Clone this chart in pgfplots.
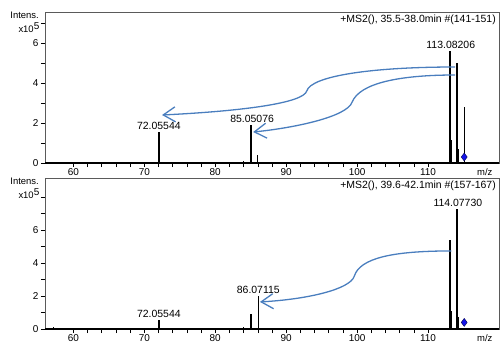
\documentclass[border=0pt]{standalone}
\usepackage{fontspec}
\setmainfont{Liberation Sans}
\usepackage{pgfplots}
\pgfplotsset{compat=1.18}
\usetikzlibrary{arrows.meta}
\definecolor{arrblue}{RGB}{74,126,190}
\definecolor{dia}{RGB}{20,20,235}
\definecolor{framegray}{RGB}{90,90,90}
\newcommand\lbl{\fontsize{10.5}{12}\selectfont}
\pgfplotsset{ms/.style={
  scale only axis, width=454bp, height=151bp, anchor=south west,
  xmin=56, xmax=120, ymin=0,
  xtick={60,70,...,110}, minor x tick num=4,
  ytick={0,2,4,6},
  tick align=outside, tick pos=left,
  major tick length=4bp, minor tick length=4bp,
  every tick/.style={black, line width=0.6pt},
  axis line style={framegray, line width=0.7pt},
  tick label style={font=\fontsize{10}{11}\selectfont},
  /pgf/number format/assume math mode=true,
  xticklabel style={yshift=2bp},
  yticklabel style={xshift=1bp},
  clip=false,
}}
\begin{document}
\begin{tikzpicture}
\useasboundingbox (0,0) rectangle (500bp,-343bp);
% ---------------- top spectrum
\begin{axis}[ms, at={(45bp,-163bp)}, ymax=7.55, minor ytick={1,3,5,7}]
\draw[black, line width=1.8pt] (axis cs:56,0) -- (axis cs:120,0);
\addplot[ycomb, black, line width=1.3pt, mark=none] coordinates {
 (61.7,0.06) (72.05,1.55) (84.0,0.08) (85.05,1.9) (86.0,0.4) (96.3,0.05)
 (110.2,0.04) (113.08,5.6) (113.25,1.15) (114.08,5.0) (114.25,0.7) (115.1,2.8)};
\addplot[only marks, mark=diamond*, mark size=4bp, mark options={fill=dia, draw=black!70!blue}] coordinates {(115.1,0.3)};
\node[anchor=south, inner sep=1bp, font=\lbl] at (axis cs:72.05,1.6) {72.05544};
\node[anchor=south, inner sep=1bp, font=\lbl] at (axis cs:85.2,1.95) {85.05076};
\node[anchor=south, inner sep=1bp, font=\lbl] at (axis cs:113.2,5.65) {113.08206};
\node[anchor=north east, inner sep=0pt, font=\fontsize{10.5}{12}\selectfont] at ([xshift=-3bp,yshift=-3bp]rel axis cs:1,1) {+MS2(), 35.5-38.0min \#(141-151)};
\node[anchor=north, inner sep=0pt, font=\fontsize{9.5}{11}\selectfont] at ([yshift=-5bp]axis cs:118,0) {m/z};
\node[anchor=north east, inner sep=0pt, font=\fontsize{9.5}{11}\selectfont] at ([xshift=-6bp,yshift=0bp]rel axis cs:0,1) {Intens.};
\node[anchor=north east, inner sep=0pt, font=\fontsize{9.5}{11}\selectfont] at ([xshift=-5bp,yshift=-10bp]rel axis cs:0,1) {x10\textsuperscript{\fontsize{10}{11}\selectfont 5}};
\draw[arrblue, line width=1.3pt, -{Straight Barb[length=12bp,width=15bp]}]
 (axis cs:113.8,4.8) .. controls (axis cs:102,4.8) and (axis cs:93.5,4.35) .. (axis cs:92.9,3.6)
 .. controls (axis cs:92.4,3.0) and (axis cs:84,2.6) .. (axis cs:72.5,2.4);
\draw[arrblue, line width=1.3pt, -{Straight Barb[length=12bp,width=15bp]}]
 (axis cs:113.8,4.4) .. controls (axis cs:106,4.4) and (axis cs:100.4,4.0) .. (axis cs:99.3,3.05)
 .. controls (axis cs:98.6,2.3) and (axis cs:91,1.75) .. (axis cs:85.35,1.55);
\end{axis}
% ---------------- bottom spectrum
\begin{axis}[ms, at={(45bp,-329bp)}, ymax=9.15, minor ytick={1,3,5,7,8}]
\draw[black, line width=1.8pt] (axis cs:56,0) -- (axis cs:120,0);
\addplot[ycomb, black, line width=1.3pt, mark=none] coordinates {
 (57.2,0.1) (61.7,0.05) (71.0,0.05) (72.05,0.55) (84.0,0.15) (85.05,0.9)
 (86.07,2.0) (95.5,0.05) (113.08,5.4) (113.25,1.1) (114.08,7.3) (114.25,0.7)};
\addplot[only marks, mark=diamond*, mark size=4bp, mark options={fill=dia, draw=black!70!blue}] coordinates {(115.1,0.4)};
\node[anchor=south, inner sep=1bp, font=\lbl] at (axis cs:72.05,0.6) {72.05544};
\node[anchor=south, inner sep=1bp, font=\lbl] at (axis cs:86.07,2.1) {86.07115};
\node[anchor=south, inner sep=1bp, font=\lbl] at (axis cs:114.2,7.35) {114.07730};
\node[anchor=north east, inner sep=0pt, font=\fontsize{10.5}{12}\selectfont] at ([xshift=-3bp,yshift=-3bp]rel axis cs:1,1) {+MS2(), 39.6-42.1min \#(157-167)};
\node[anchor=north, inner sep=0pt, font=\fontsize{9.5}{11}\selectfont] at ([yshift=-5bp]axis cs:118,0) {m/z};
\node[anchor=north east, inner sep=0pt, font=\fontsize{9.5}{11}\selectfont] at ([xshift=-6bp,yshift=0bp]rel axis cs:0,1) {Intens.};
\node[anchor=north east, inner sep=0pt, font=\fontsize{9.5}{11}\selectfont] at ([xshift=-5bp,yshift=-10bp]rel axis cs:0,1) {x10\textsuperscript{\fontsize{10}{11}\selectfont 5}};
\draw[arrblue, line width=1.3pt, -{Straight Barb[length=12bp,width=15bp]}]
 (axis cs:113.3,4.73) .. controls (axis cs:105,4.73) and (axis cs:100.4,4.3) .. (axis cs:99.6,3.2)
 .. controls (axis cs:99,2.4) and (axis cs:93,1.8) .. (axis cs:86.3,1.64);
\end{axis}
\end{tikzpicture}
\end{document}
